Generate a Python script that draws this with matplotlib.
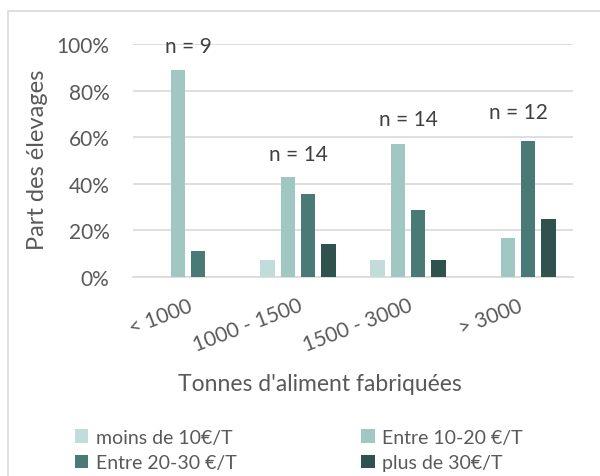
import matplotlib
matplotlib.use("Agg")
import matplotlib.pyplot as plt
import numpy as np
from matplotlib.patches import Rectangle

categories = ["< 1000", "1000 - 1500", "1500 - 3000", "> 3000"]
series_names = ["moins de 10€/T", "Entre 10-20 €/T", "Entre 20-30 €/T", "plus de 30€/T"]
moins_10 = [0, 7.1, 7.1, 0]
entre_10_20 = [88.9, 42.9, 57.1, 16.7]
entre_20_30 = [11.1, 35.7, 28.6, 58.3]
plus_30 = [0, 14.3, 7.1, 25.0]
n_labels = ["n = 9", "n = 14", "n = 14", "n = 12"]
n_label_y = [99, 53, 68, 71]
yticks = [0, 20, 40, 60, 80, 100]

colors = ["#c2dcdb", "#a1c7c3", "#497a76", "#2f524f"]
txt = "#595959"

plt.rcParams['font.family'] = ['Lato', 'DejaVu Sans']

fig = plt.figure(figsize=(6, 4.77), dpi=100)
ax = fig.add_axes([133/600, 1-278/477, 440/600, 233/477])

x = np.arange(len(categories))
width = 0.136
step = 0.182
all_series = [moins_10, entre_10_20, entre_20_30, plus_30]
for i, (vals, name, c) in enumerate(zip(all_series, series_names, colors)):
    ax.bar(x + (i - 1.5) * step, vals, width, color=c, label=name, zorder=3)

for xi, lab, yv in zip(x, n_labels, n_label_y):
    ax.text(xi, yv, lab, ha='center', va='center', fontsize=15, color='#404040', zorder=4)

ax.set_xlim(-0.5, 3.5)
ax.set_ylim(0, 100)
ax.set_yticks(yticks)
ax.set_yticklabels([f"{v}%" for v in yticks])
ax.set_xticks(x)
ax.set_xticklabels(categories, rotation=21, ha='right', rotation_mode='anchor')
ax.tick_params(axis='both', length=0, labelsize=15, colors=txt)
ax.tick_params(axis='y', pad=17)
ax.tick_params(axis='x', pad=13)
ax.grid(axis='y', color='#d9d9d9', linewidth=1.2, zorder=0)
for s in ['top', 'right', 'left']:
    ax.spines[s].set_visible(False)
ax.spines['bottom'].set_color('#d9d9d9')
ax.spines['bottom'].set_linewidth(1.2)

fig.text(38/600, 1-160/477, "Part des élevages", rotation=90, ha='center', va='center',
         fontsize=17, color=txt)
fig.text(320/600, 1-385/477, "Tonnes d'aliment fabriquées", ha='center', va='center',
         fontsize=16.5, color=txt)

handles, labels = ax.get_legend_handles_labels()
order = [0, 2, 1, 3]
leg = fig.legend([handles[i] for i in order], [labels[i] for i in order], ncol=2,
                 loc='center left', bbox_to_anchor=(57/600, 1-451/477), frameon=False,
                 fontsize=14, labelcolor=txt, handlelength=0.7, handleheight=0.7,
                 handletextpad=0.4, columnspacing=6.4, labelspacing=0.45)

fig.patches.append(Rectangle((8/600, -0.1), 1.2, 1.1 - 12/477, transform=fig.transFigure,
                             fill=False, edgecolor='#d9d9d9', linewidth=1.2))

fig.savefig("out.png", dpi=100)
